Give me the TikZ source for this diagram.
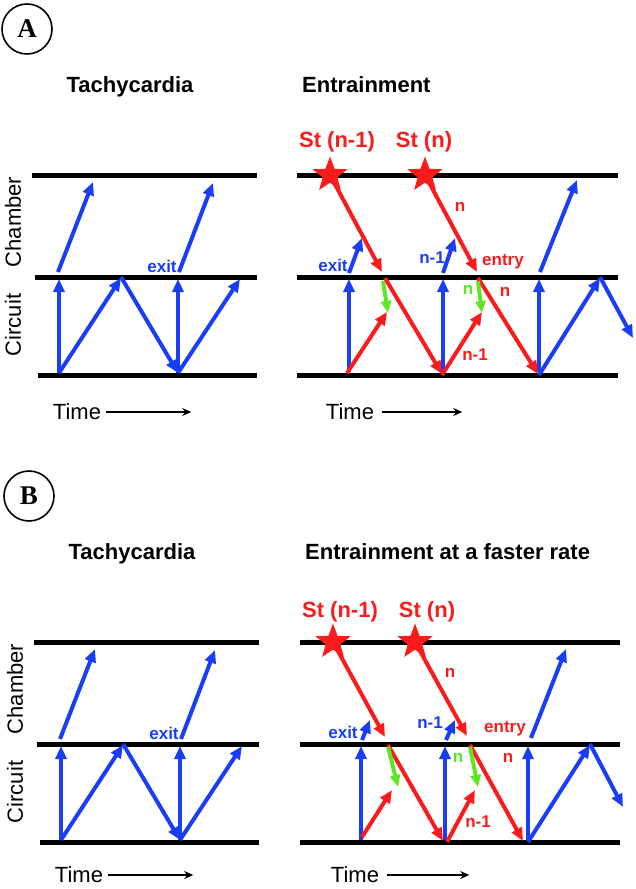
\documentclass[tikz,border=0pt]{standalone}
\usepackage{fontspec}
\setmainfont{Liberation Sans}
\newfontfamily\tnrfont{Liberation Serif}
\usetikzlibrary{shapes.geometric,arrows.meta}
\definecolor{ekgblue}{RGB}{25,62,245}
\definecolor{ekgred}{RGB}{250,28,28}
\definecolor{ekggreen}{RGB}{95,230,35}
\tikzset{
  axisline/.style={line width=5pt},
  barr/.style={ekgblue,line width=4pt,-{Triangle[length=13pt,width=11pt]}},
  rarr/.style={ekgred,line width=4pt,-{Triangle[length=13pt,width=11pt]}},
  garr/.style={ekggreen,line width=4pt,-{Triangle[length=12pt,width=10pt]}},
  title/.style={font=\bfseries\fontsize{22}{26}\selectfont,inner sep=0pt},
  axlbl/.style={font=\fontsize{22}{26}\selectfont,inner sep=0pt},
  stlbl/.style={font=\bfseries\fontsize{22}{26}\selectfont,text=ekgred,inner sep=0pt},
  blbl/.style={font=\bfseries\fontsize{17}{20}\selectfont,text=ekgblue,inner sep=0pt},
  rlbl/.style={font=\bfseries\fontsize{17}{20}\selectfont,text=ekgred,inner sep=0pt},
  glbl/.style={font=\bfseries\fontsize{17}{20}\selectfont,text=ekggreen,inner sep=0pt},
  stim/.style={star,star points=5,star point ratio=2.4,fill=ekgred,
               minimum size=37pt,inner sep=0pt},
  panel/.style={draw,circle,line width=1.6pt,minimum size=50pt,inner sep=0pt,
                font=\tnrfont\bfseries\fontsize{27}{30}\selectfont},
  timearr/.style={line width=1.5pt,-{Stealth[length=9pt,width=8pt]}},
}

\begin{document}
\begin{tikzpicture}[x=1pt,y=-1pt]
  \useasboundingbox (0,0) rectangle (636,889);

  %% Tachycardia panels (A and B)
  \foreach \dx/\dy/\tag/\ty in {0/0/A/412,2/467/B/408}{
    \begin{scope}[shift={(\dx,\dy)}]
      \node[panel] (pan\tag) at (27,29) {\tag};
      \node[title] (tachy\tag) at (130,87) {Tachycardia};
      \draw[axisline] (32,175) -- (257,175);
      \draw[axisline] (35,277) -- (257,277);
      \draw[axisline] (38,375) -- (257,375);
      \node[axlbl,rotate=90] (chamb\tag) at (13,222) {Chamber};
      \node[axlbl,rotate=90] (circ\tag) at (13,325) {Circuit};
      \node[axlbl] (time\tag) at (77,\ty) {Time};
      \draw[timearr] ([xshift=5pt]time\tag.east) -- ++(85,0);
      %% circuit loop
      \draw[barr] (59,373) -- (59,279);
      \draw[barr] (59,373) -- (121,278);
      \draw[barr] (121,277) -- (178,373);
      \draw[barr] (178,373) -- (178,279);
      \draw[barr] (178,373) -- (240,279);
      %% exit to chamber
      \draw[barr] (58,272) -- (93,182);
      \draw[barr] (179,272) -- (213,183);
      \node[blbl] (exit\tag) at (162,266) {exit};
    \end{scope}
  }

  %% Entrainment (A)
  \node[title,anchor=west] (entrA) at (302,85) {Entrainment};
  \draw[axisline] (297,175) -- (618,175);
  \draw[axisline] (297,277) -- (618,277);
  \draw[axisline] (297,375) -- (618,375);
  \node[axlbl] (timeC) at (350,412) {Time};
  \draw[timearr] ([xshift=8pt]timeC.east) -- ++(80,0);
  \node[stlbl] (lstA1) at (337,142) {St (n-1)};
  \node[stlbl] (lstA2) at (424,142) {St (n)};
  \node[stim] (stA1) at (330,175) {};
  \node[stim] (stA2) at (425,175) {};
  \draw[rarr] (stA1.center) -- (382,272);
  \draw[rarr] (stA2.center) -- (477,272);
  %% circuit
  \draw[barr] (349,372) -- (349,279);
  \draw[barr] (443,372) -- (443,279);
  \draw[barr] (539,372) -- (539,279);
  \draw[barr] (539,375) -- (600,278);
  \draw[barr] (600,277) -- (633,338);
  \draw[rarr] (347,373) -- (387,312);
  \draw[rarr] (442,375) -- (482,312);
  \draw[rarr] (385,278) -- (442,374);
  \draw[rarr] (478,278) -- (538,374);
  \draw[garr] (383,281) -- (388,313);
  \draw[garr] (478,281) -- (482,313);
  %% chamber
  \draw[barr] (349,273) -- (362,238);
  \draw[barr] (443,273) -- (455,238);
  \draw[barr] (540,272) -- (577,180);
  \node[blbl] (exitC) at (333,265) {exit};
  \node[blbl] (nmA) at (432,258) {n-1};
  \node[rlbl] (nA1) at (460,207) {n};
  \node[rlbl] (entA) at (503,262) {entry};
  \node[glbl] (ngA) at (468,290) {n};
  \node[rlbl] (nA2) at (505,292) {n};
  \node[rlbl] (nmA2) at (475,355) {n-1};

  %% Entrainment at a faster rate (B)
  \begin{scope}[shift={(0,467)}]
    \node[title,anchor=west] (entrB) at (305,85) {Entrainment at a faster rate};
    \draw[axisline] (300,175) -- (620,175);
    \draw[axisline] (300,277) -- (620,277);
    \draw[axisline] (300,375) -- (620,375);
    \node[axlbl] (timeD) at (355,408) {Time};
    \draw[timearr] ([xshift=8pt]timeD.east) -- ++(82,0);
    \node[stlbl] (lstB1) at (340,145) {St (n-1)};
    \node[stlbl] (lstB2) at (427,145) {St (n)};
    \node[stim] (stB1) at (333,175) {};
    \node[stim] (stB2) at (415,175) {};
    \draw[rarr] (stB1.center) -- (385,270);
    \draw[rarr] (stB2.center) -- (467,269);
    %% circuit
    \draw[barr] (361,373) -- (361,279);
    \draw[barr] (445,373) -- (445,279);
    \draw[barr] (528,373) -- (528,279);
    \draw[barr] (528,375) -- (590,278);
    \draw[barr] (590,277) -- (623,340);
    \draw[rarr] (362,370) -- (392,323);
    \draw[rarr] (447,375) -- (475,323);
    \draw[rarr] (388,278) -- (443,374);
    \draw[rarr] (470,278) -- (523,374);
    \draw[garr] (388,280) -- (398,320);
    \draw[garr] (470,280) -- (478,320);
    %% chamber
    \draw[barr] (362,273) -- (370,253);
    \draw[barr] (446,273) -- (455,253);
    \draw[barr] (531,271) -- (566,182);
    \node[blbl] (exitD) at (343,265) {exit};
    \node[blbl] (nmB) at (430,256) {n-1};
    \node[rlbl] (nB1) at (450,206) {n};
    \node[rlbl] (entB) at (505,262) {entry};
    \node[glbl] (ngB) at (458,291) {n};
    \node[rlbl] (nB2) at (508,291) {n};
    \node[rlbl] (nmB2) at (478,355) {n-1};
  \end{scope}
\end{tikzpicture}
\end{document}
